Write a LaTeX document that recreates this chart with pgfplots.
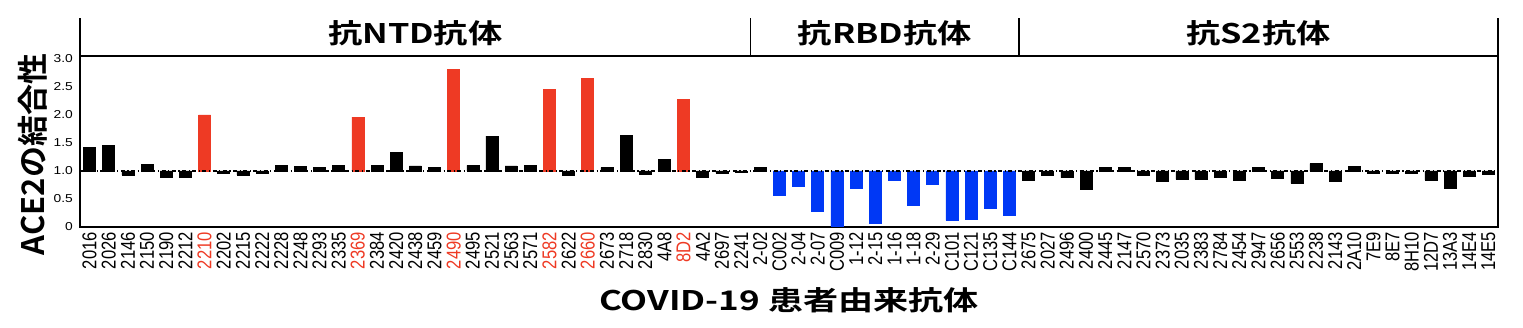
\documentclass[border=0pt]{standalone}
\usepackage{pgfplots}
\usepackage{pgfplotstable}
\pgfplotsset{compat=1.18}
\usepackage{fontspec}
\setmainfont{Liberation Sans}
\newfontfamily\cjkb{Noto Sans CJK JP Bold}
\newfontfamily\xtickfont{Liberation Sans}[FakeStretch=0.83]
\newfontfamily\ytickfont{Liberation Sans}[FakeStretch=1.2]
\definecolor{nred}{RGB}{238,58,36}
\definecolor{nblue}{RGB}{0,56,245}
\newcommand\redl[1]{\textcolor{nred}{#1}}

\pgfplotstableread{
x v
0 1.42
1 1.45
2 0.93
3 1.11
4 0.89
5 0.89
7 0.96
8 0.93
9 0.96
10 1.10
11 1.08
12 1.06
13 1.10
15 1.10
16 1.33
17 1.09
18 1.06
20 1.10
21 1.62
22 1.09
23 1.10
25 0.92
27 1.06
28 1.64
29 0.94
30 1.21
32 0.88
33 0.96
34 0.97
35 1.06
49 0.84
50 0.93
51 0.88
52 0.67
53 1.07
54 1.07
55 0.93
56 0.82
57 0.85
58 0.85
59 0.88
60 0.84
61 1.06
62 0.87
63 0.78
64 1.13
65 0.81
66 1.08
67 0.95
68 0.95
69 0.96
70 0.84
71 0.69
72 0.91
73 0.94
}\blackdata

\pgfplotstableread{
x v
6 2.00
14 1.96
19 2.81
24 2.46
26 2.65
31 2.27
}\reddata

\pgfplotstableread{
x v
36 0.57
37 0.73
38 0.28
39 0.01
40 0.69
41 0.07
42 0.84
43 0.38
44 0.76
45 0.12
46 0.14
47 0.34
48 0.20
}\bluedata

\begin{document}
\begin{tikzpicture}
\path[use as bounding box] (0,0) rectangle (1523pt,327pt);
\begin{axis}[
  at={(80pt,100pt)}, anchor=south west,
  width=1418pt, height=171pt, scale only axis,
  xmin=-0.5, xmax=73.5, ymin=-1, ymax=2.05,
  clip=false,
  axis line style={line width=2.4pt},
  major tick length=0pt,
  ybar, bar width=12pt, bar shift=0pt,
  xtick={0,...,73},
  xticklabels={2016,2026,2146,2150,2190,2212,\redl{2210},2202,2215,2222,2228,2248,2293,2335,\redl{2369},2384,2420,2438,2459,\redl{2490},2495,2521,2563,2571,\redl{2582},2622,\redl{2660},2673,2718,2830,4A8,\redl{8D2},4A2,2697,2241,2-02,C002,2-04,2-07,C009,1-12,2-15,1-16,1-18,2-29,C101,C121,C135,C144,2675,2027,2496,2400,2445,2147,2570,2373,2035,2383,2784,2454,2947,2656,2553,2238,2143,2A10,7E9,8E7,8H10,12D7,13A3,14E4,14E5},
  xticklabel style={rotate=90, anchor=east, inner sep=0pt, font=\xtickfont\fontsize{20}{20}\selectfont},
  xticklabel shift=5pt,
  ytick={-1,-0.5,0,0.5,1,1.5,2},
  yticklabels={0,0.5,1.0,1.5,2.0,2.5,3.0},
  yticklabel style={anchor=east, inner sep=0pt, font=\ytickfont\fontsize{11.5}{11.5}\selectfont},
  yticklabel shift=7pt,
]
\addplot[fill=black, draw=black, line width=0.6pt] table[x=x, y expr=\thisrow{v}-1] {\blackdata};
\addplot[fill=nred, draw=nred, line width=0.6pt] table[x=x, y expr=\thisrow{v}-1] {\reddata};
\addplot[fill=nblue, draw=nblue, line width=0.6pt] table[x=x, y expr=\thisrow{v}-1] {\bluedata};
\draw[line width=1.3pt, dash pattern=on 4pt off 2.5pt on 1.2pt off 2.5pt] (axis cs:-0.5,0) -- (axis cs:73.5,0);
% header band
\draw[line width=2.4pt] (axis cs:-0.5,2.05) -- ++(0pt,38pt);
\draw[line width=1.6pt] (axis cs:34.5,2.05) -- ++(0pt,38pt);
\draw[line width=1.6pt] (axis cs:48.5,2.05) -- ++(0pt,38pt);
\draw[line width=2.0pt] (axis cs:73.5,2.05) -- ++(0pt,38pt);
\node at ([yshift=23pt]axis cs:17,2.05) {\cjkb\fontsize{27}{27}\selectfont\scalebox{1.27}[1]{抗NTD抗体}};
\node at ([yshift=23pt]axis cs:41.5,2.05) {\cjkb\fontsize{27}{27}\selectfont\scalebox{1.27}[1]{抗RBD抗体}};
\node at ([yshift=23pt]axis cs:61,2.05) {\cjkb\fontsize{27}{27}\selectfont\scalebox{1.27}[1]{抗S2抗体}};
\node[rotate=90] at ([xshift=-47pt,yshift=-13pt]axis description cs:0,0.5) {\cjkb\fontsize{31}{31}\selectfont ACE2の結合性};
\node at ([yshift=-73pt]axis description cs:0.5,0) {\cjkb\fontsize{27}{27}\selectfont\scalebox{1.3}[1]{COVID-19 患者由来抗体}};
\end{axis}
\end{tikzpicture}
\end{document}
